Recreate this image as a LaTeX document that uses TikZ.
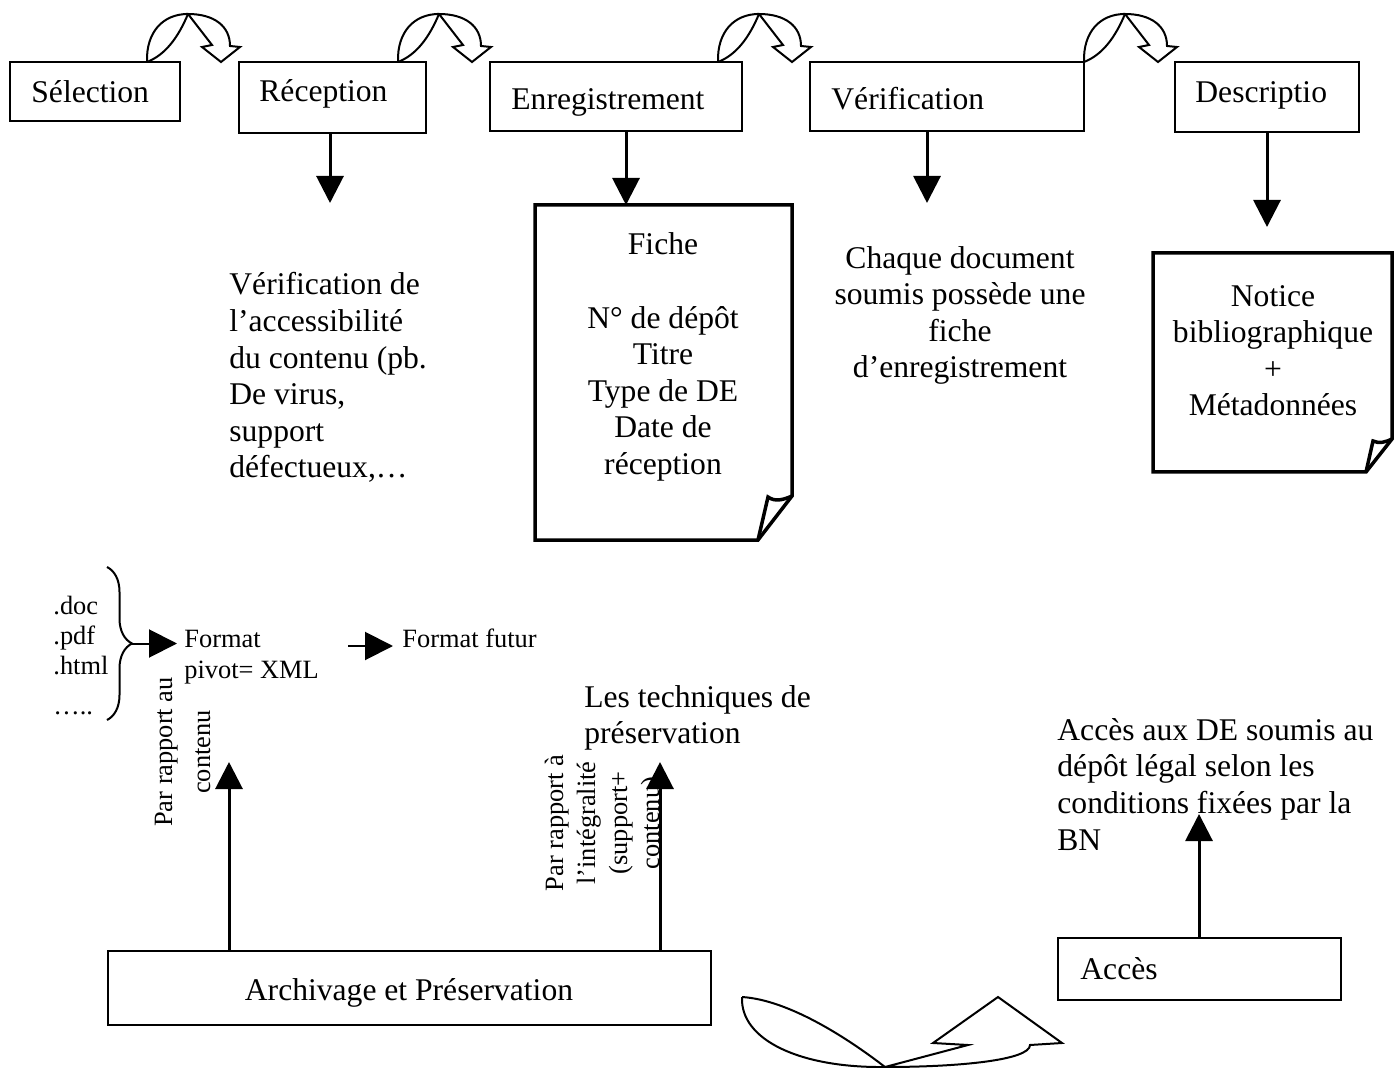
\documentclass[tikz,border=0pt]{standalone}
\usepackage{fontspec}
\setmainfont{Liberation Serif}
\usetikzlibrary{arrows.meta,decorations.pathreplacing}
\newcommand\fsmain{\fontsize{15.8pt}{18.3pt}\selectfont}
\newcommand\fssmall{\fontsize{13.2pt}{15.2pt}\selectfont}
\begin{document}
\begin{tikzpicture}[x=0.5pt,y=-0.5pt,
  box/.style={draw,line width=0.75pt,inner sep=0pt,rectangle},
  txt/.style={inner sep=0pt,font=\fsmain},
  stxt/.style={inner sep=0pt,font=\fssmall},
  arr/.style={line width=1.5pt,-{Triangle[length=13.5pt,width=13.5pt]}},
  sarr/.style={line width=1pt,-{Triangle[length=14pt,width=14pt]}},
  doc/.style={line width=1.75pt,line join=miter},
  curv/.style={line width=1pt,line join=miter}]
\useasboundingbox[fill=white] (0,0) rectangle (1395,1068);

% top boxes
\node[box,minimum width=85pt,minimum height=29.5pt] (sel) at (95,91.5) {};
\node[box,minimum width=93.5pt,minimum height=35.5pt] (rec) at (332.5,97.5) {};
\node[box,minimum width=126pt,minimum height=34.5pt] (enr) at (616,96.5) {};
\node[box,minimum width=137pt,minimum height=34.5pt] (ver) at (947,96.5) {};
\node[box,minimum width=92pt,minimum height=35pt] (des) at (1267,97) {};
\node[txt,anchor=base west] (selt) at (31,103) {Sélection};
\node[txt,anchor=base west] (rect) at (259,102) {Réception};
\node[txt,anchor=base west] (enrt) at (511,110) {Enregistrement};
\node[txt,anchor=base west] (vert) at (831,110) {Vérification};
\node[txt,anchor=base west] (dest) at (1195,103) {Descriptio};

% curved arrows between top boxes
\foreach \dx in {0,251,571,937}{
  \begin{scope}[shift={(\dx,0)}]
    \draw[curv] (147,62) .. controls (146,32) and (163,14) .. (188,14);
    \draw[curv] (147,62) .. controls (165,55) and (178,38) .. (188,14);
    \draw[curv] (188,14) .. controls (214,14) and (230,26) .. (230,46)
       -- (240,47) -- (221,62) -- (202,47) -- (212,45) -- cycle;
  \end{scope}
}

% down arrows
\coordinate (rtip) at (330,203);
\coordinate (fichetop) at (626,205);
\coordinate (vtip) at (927,203);
\coordinate (dtip) at (1267,227);
\draw[arr] (rec.south -| rtip) -- (rtip);
\draw[arr] (enr.south -| fichetop) -- (fichetop);
\draw[arr] (ver.south -| vtip) -- (vtip);
\draw[arr] (des.south -| dtip) -- (dtip);

% texts under boxes (base anchor = baseline of last line)
\node[txt,anchor=base west,align=left] (vdesc) at (229,478)
  {Vérification de\\l’accessibilité\\du contenu (pb.\\De virus,\\support\\défectueux,…};
\draw[doc] (535,205) -- (792,205) -- (792,496) -- (758,540) -- (535,540) -- cycle;
\draw[doc] (758,540) -- (768,497) .. controls (775,502) and (783,500) .. (792,496);
\node[txt,anchor=base,align=center] (fiche) at (663,474.6)
  {Fiche\\[18.3pt]N° de dépôt\\Titre\\Type de DE\\Date de\\réception};
\node[txt,anchor=base,align=center] (chaque) at (960,378)
  {Chaque document\\soumis possède une\\fiche\\d’enregistrement};
\draw[doc] (1153,253) -- (1392,253) -- (1392,439) -- (1366,472) -- (1153,472) -- cycle;
\draw[doc] (1366,472) -- (1373,441) .. controls (1379,444) and (1386,442) .. (1392,439);
\node[txt,anchor=base,align=center] (notice) at (1273,416)
  {Notice\\bibliographique\\+\\Métadonnées};

% formats
\node[stxt,anchor=base west,align=left] (ext) at (53,714.7) {.doc\\.pdf\\.html\\[4.75pt]…..};
\coordinate (btop) at (107,567);
\coordinate (bbot) at (107,720);
\draw[line width=1pt,decorate,decoration={brace,amplitude=12.5pt}] (btop) -- (bbot);
\coordinate (bt) at (132,643.5);
\node[stxt,anchor=base west,align=left] (fmt) at (184,678) {Format\\pivot= XML};
\node[stxt,anchor=base west] (ff) at (402,647) {Format futur};
\draw[sarr,shorten >=3.5pt] (bt) -- (fmt.west |- bt);
\coordinate (a2s) at (348,646);
\draw[sarr,shorten >=4.5pt] (a2s) -- (ff.west |- a2s);

% rotated labels
\node[inner sep=0pt,rotate=90,anchor=base,align=center,font=\fontsize{13.2pt}{19pt}\selectfont] (rot1) at (210,752) {Par rapport au\\contenu};
\node[inner sep=0pt,rotate=90,anchor=base,align=center,font=\fontsize{13.2pt}{16pt}\selectfont] (rot2) at (659,823) {Par rapport à\\l’intégralité\\(support+\\contenu)};

\node[txt,anchor=base west,align=left] (tech) at (584,743.6) {Les techniques de\\préservation};
\node[txt,anchor=base west,align=left] (accdesc) at (1057,850)
  {Accès aux DE soumis au\\dépôt légal selon les\\conditions fixées par la\\BN};

% bottom boxes
\node[box,minimum width=301.5pt,minimum height=37pt] (arch) at (409.5,988) {};
\node[txt,anchor=base] (archt) at (409,1000) {Archivage et Préservation};
\node[box,minimum width=141.5pt,minimum height=31pt] (acc) at (1199.5,969) {};
\node[txt,anchor=base west] (acct) at (1080,979) {Accès};

% up arrows
\coordinate (u1) at (229,762);
\coordinate (u2) at (660,762);
\coordinate (u3) at (1199,814);
\draw[arr] (arch.north -| u1) -- (u1);
\draw[arr] (arch.north -| u2) -- (u2);
\draw[arr] (acc.north -| u3) -- (u3);

% bottom curved arrow
\draw[curv] (742,997) .. controls (790,1000) and (850,1040) .. (885,1067);
\draw[curv] (742,997) .. controls (740,1040) and (800,1068) .. (885,1067)
  .. controls (960,1067) and (1030,1060) .. (1030,1045)
  -- (1062,1043) -- (998,997) -- (933,1043) -- (968,1045) -- (885,1067);
\end{tikzpicture}
\end{document}
